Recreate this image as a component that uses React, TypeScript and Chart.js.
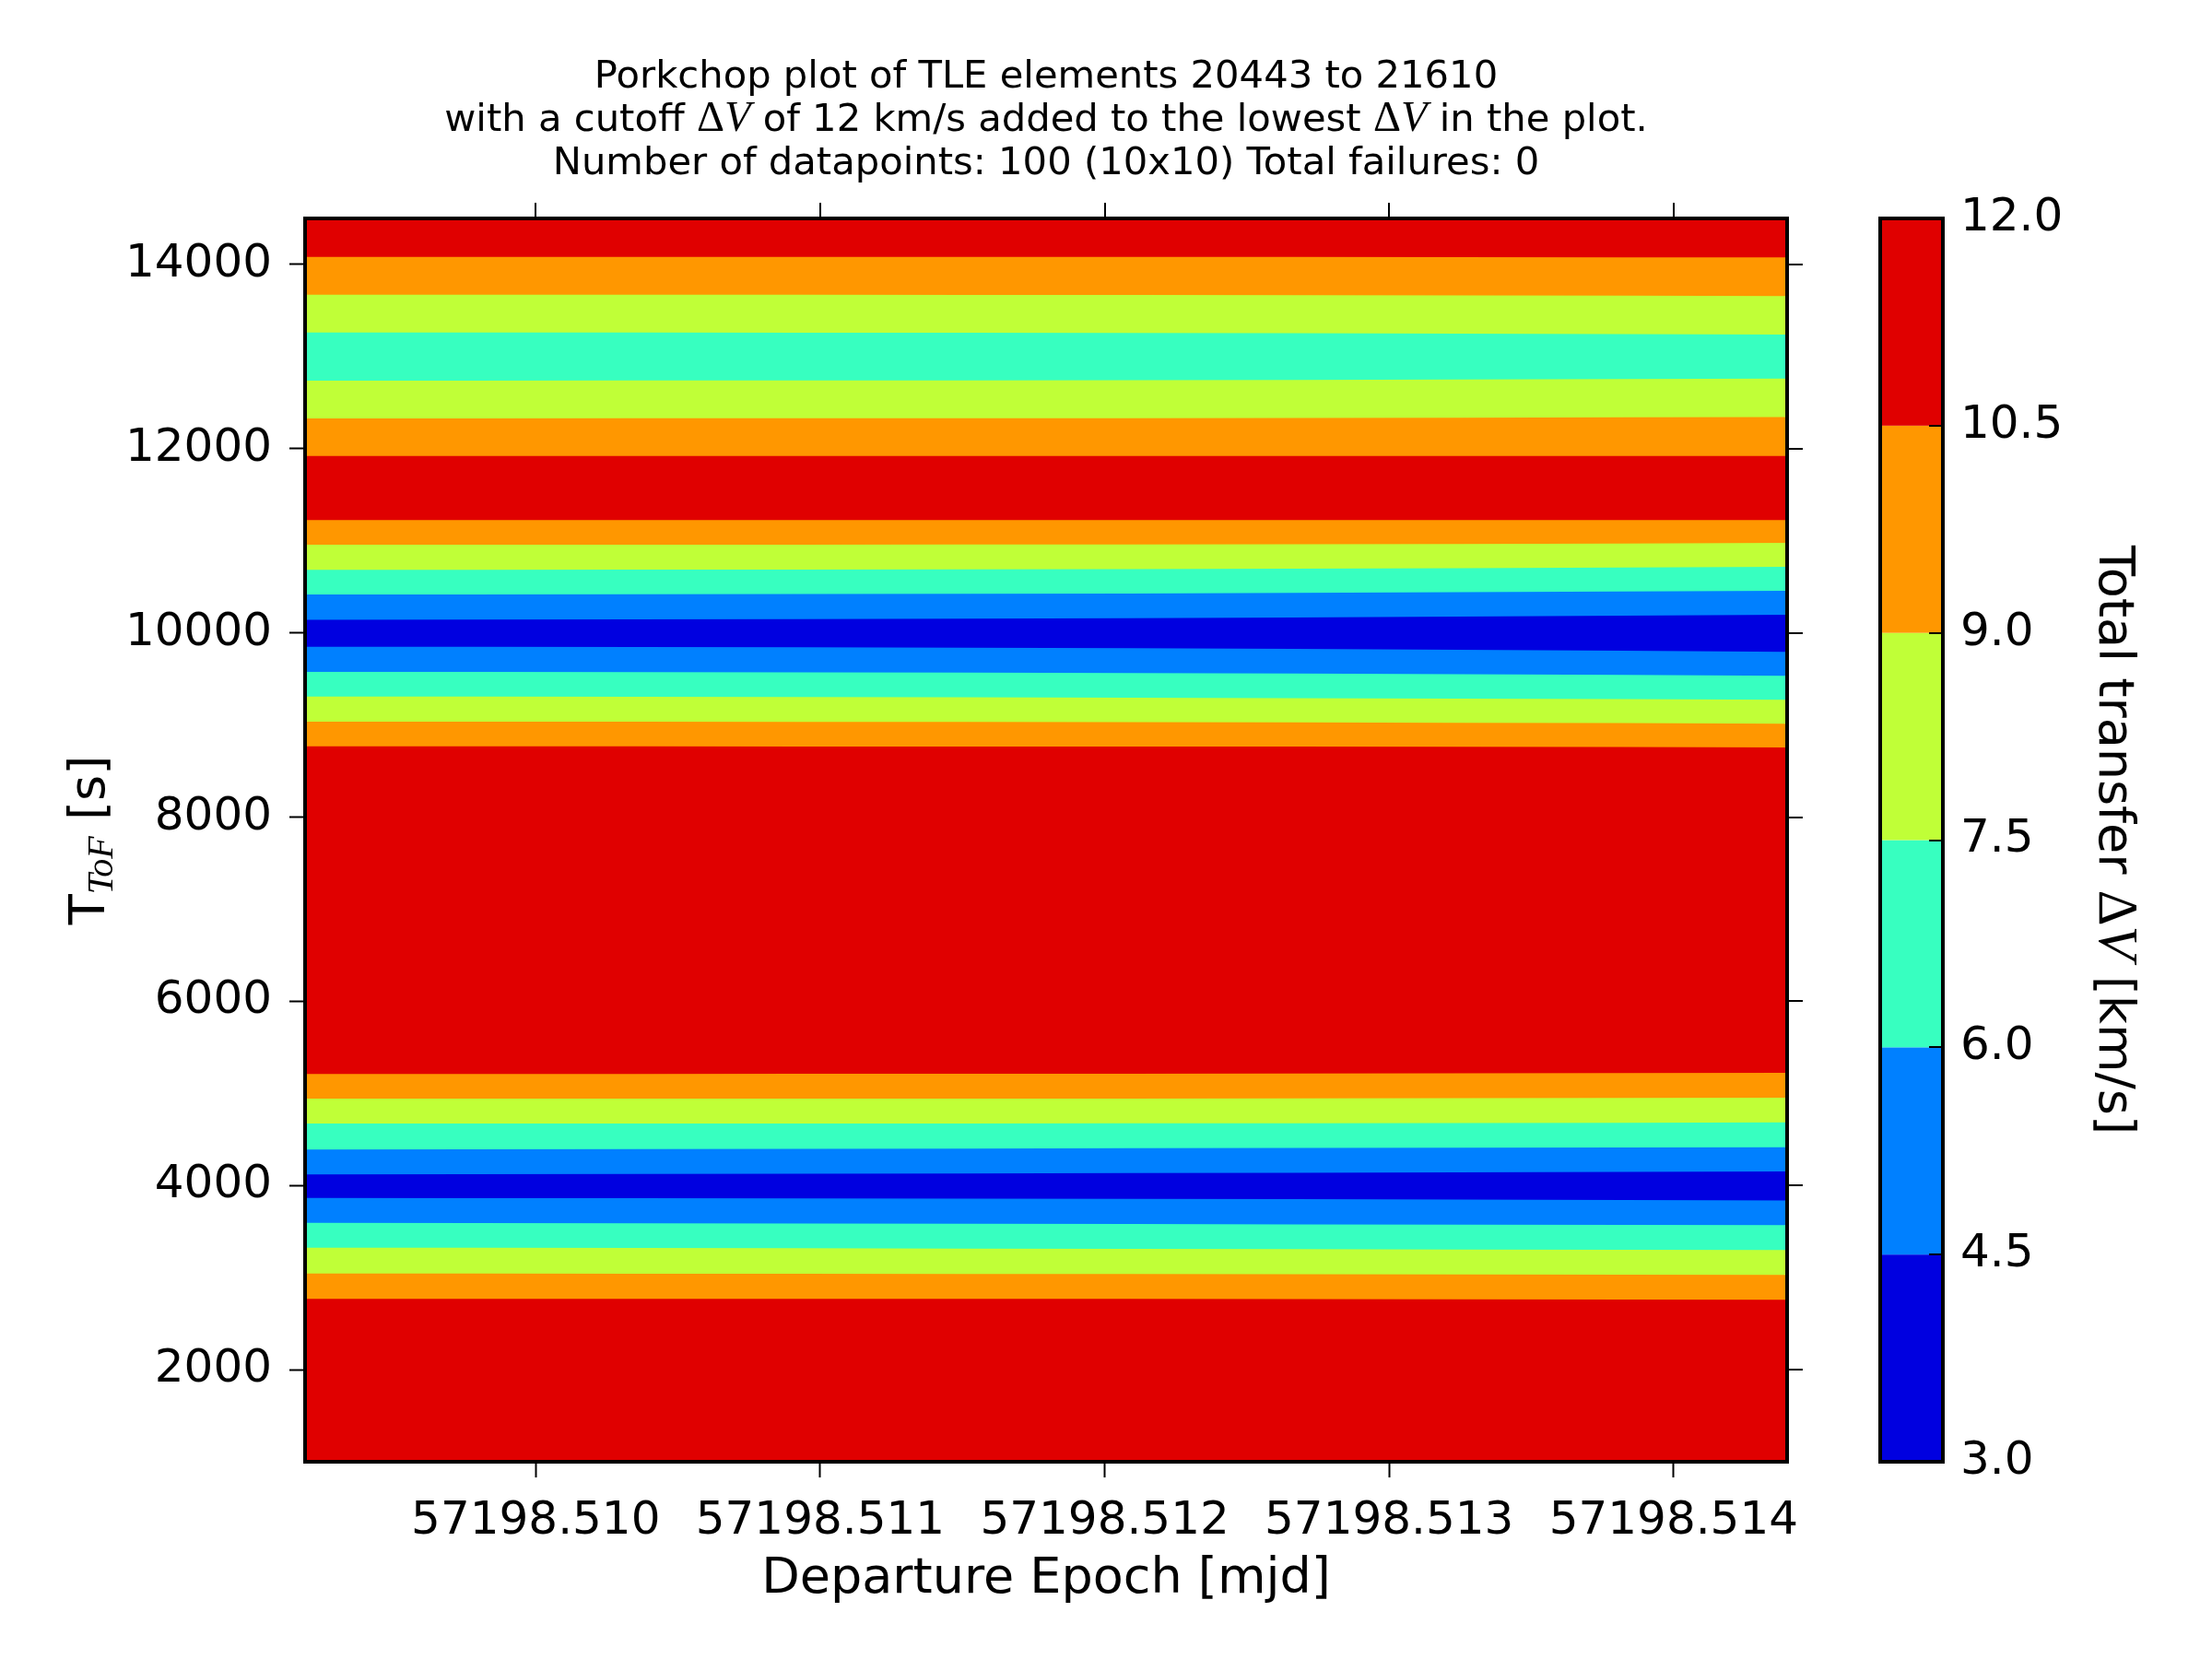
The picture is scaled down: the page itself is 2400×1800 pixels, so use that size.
import React, { useEffect, useRef } from 'react';
import { Chart, registerables } from 'chart.js';

Chart.register(...registerables);

// ---- data ----
const DEPARTURE_MJD = [
  57198.509189, 57198.509768, 57198.510347, 57198.510926, 57198.511505,
  57198.512083, 57198.512662, 57198.513241, 57198.51382, 57198.514399,
];
const TOF_MIN = 1000;
const TOF_MAX = 14500;
const X_TICKS = [57198.51, 57198.511, 57198.512, 57198.513, 57198.514];
const Y_TICKS = [2000, 4000, 6000, 8000, 10000, 12000, 14000];
const DV_LEVELS = [3.0, 4.5, 6.0, 7.5, 9.0, 10.5, 12.0];
const BAND_COLORS = ['#0000e0', '#0080ff', '#37ffc0', '#c0ff37', '#ff9700', '#e00000'];

// Contour boundaries (ToF in s) at each departure epoch, lower valley (around 4000 s)
const LOW_105_BOTTOM = [2770, 2770, 2770, 2769, 2769, 2768, 2767, 2765, 2762, 2758];
const LOW_90_BOTTOM = [3044, 3043, 3042, 3041, 3040, 3039, 3037, 3035, 3032, 3028];
const LOW_75_BOTTOM = [3325, 3323, 3321, 3318, 3314, 3311, 3308, 3305, 3302, 3299];
const LOW_60_BOTTOM = [3594, 3592, 3590, 3587, 3584, 3581, 3578, 3575, 3572, 3569];
const LOW_45_BOTTOM = [3864, 3863, 3861, 3859, 3857, 3854, 3851, 3847, 3843, 3838];
const LOW_45_TOP = [4120, 4122, 4124, 4127, 4130, 4134, 4138, 4142, 4147, 4152];
const LOW_60_TOP = [4390, 4392, 4395, 4398, 4401, 4404, 4407, 4410, 4413, 4416];
const LOW_75_TOP = [4672, 4672, 4672, 4672, 4673, 4674, 4676, 4678, 4681, 4684];
const LOW_90_TOP = [4942, 4942, 4942, 4942, 4943, 4944, 4946, 4948, 4951, 4954];
const LOW_105_TOP = [5211, 5211, 5211, 5212, 5213, 5214, 5216, 5218, 5220, 5223];
// upper valley (around 10000 s)
const UP_105_BOTTOM = [8768, 8768, 8768, 8767, 8767, 8766, 8765, 8763, 8760, 8755];
const UP_90_BOTTOM = [9036, 9036, 9035, 9034, 9033, 9031, 9028, 9024, 9020, 9014];
const UP_75_BOTTOM = [9309, 9308, 9306, 9304, 9301, 9297, 9292, 9286, 9280, 9274];
const UP_60_BOTTOM = [9577, 9576, 9574, 9572, 9569, 9565, 9559, 9551, 9543, 9535];
const UP_45_BOTTOM = [9849, 9848, 9846, 9843, 9839, 9834, 9827, 9817, 9806, 9795];
const UP_45_TOP = [10143, 10145, 10147, 10150, 10154, 10159, 10167, 10177, 10188, 10197];
const UP_60_TOP = [10416, 10417, 10419, 10421, 10424, 10428, 10434, 10442, 10450, 10458];
const UP_75_TOP = [10684, 10685, 10686, 10688, 10690, 10693, 10697, 10703, 10710, 10718];
const UP_90_TOP = [10957, 10957, 10958, 10958, 10959, 10960, 10962, 10965, 10970, 10978];
const UP_105_TOP = [11226, 11226, 11226, 11226, 11226, 11226, 11226, 11226, 11226, 11226];
// secondary dip (around 13000 s)
const HI_105_BOTTOM = [11920, 11920, 11920, 11920, 11920, 11920, 11920, 11920, 11920, 11920];
const HI_90_BOTTOM = [12329, 12329, 12330, 12330, 12331, 12332, 12334, 12337, 12340, 12344];
const HI_75_BOTTOM = [12739, 12739, 12740, 12741, 12742, 12744, 12747, 12751, 12756, 12761];
const HI_75_TOP = [13262, 13262, 13261, 13260, 13259, 13257, 13254, 13250, 13245, 13240];
const HI_90_TOP = [13672, 13672, 13671, 13671, 13670, 13669, 13667, 13664, 13661, 13658];
const HI_105_TOP = [14081, 14081, 14081, 14081, 14081, 14081, 14081, 14080, 14078, 14076];
const TOP_EDGE = DEPARTURE_MJD.map(() => TOF_MAX);

// each boundary, bottom to top, with the band index (into DV_LEVELS) lying just below it
const CONTOURS: { tof: number[]; below: number }[] = [
  { tof: LOW_105_BOTTOM, below: 5 },
  { tof: LOW_90_BOTTOM, below: 4 },
  { tof: LOW_75_BOTTOM, below: 3 },
  { tof: LOW_60_BOTTOM, below: 2 },
  { tof: LOW_45_BOTTOM, below: 1 },
  { tof: LOW_45_TOP, below: 0 },
  { tof: LOW_60_TOP, below: 1 },
  { tof: LOW_75_TOP, below: 2 },
  { tof: LOW_90_TOP, below: 3 },
  { tof: LOW_105_TOP, below: 4 },
  { tof: UP_105_BOTTOM, below: 5 },
  { tof: UP_90_BOTTOM, below: 4 },
  { tof: UP_75_BOTTOM, below: 3 },
  { tof: UP_60_BOTTOM, below: 2 },
  { tof: UP_45_BOTTOM, below: 1 },
  { tof: UP_45_TOP, below: 0 },
  { tof: UP_60_TOP, below: 1 },
  { tof: UP_75_TOP, below: 2 },
  { tof: UP_90_TOP, below: 3 },
  { tof: UP_105_TOP, below: 4 },
  { tof: HI_105_BOTTOM, below: 5 },
  { tof: HI_90_BOTTOM, below: 4 },
  { tof: HI_75_BOTTOM, below: 3 },
  { tof: HI_75_TOP, below: 2 },
  { tof: HI_90_TOP, below: 3 },
  { tof: HI_105_TOP, below: 4 },
  { tof: TOP_EDGE, below: 5 },
];

const TITLE_LINES = [
  'Porkchop plot of TLE elements 20443 to 21610',
  'with a cutoff |ΔV| of 12 km/s added to the lowest |ΔV| in the plot.',
  'Number of datapoints: 100 (10x10) Total failures: 0',
];
const X_LABEL = 'Departure Epoch [mjd]';
const CB_LABEL = 'Total transfer |ΔV| [km/s]';

// ---- layout constants (pixels) ----
const W = 2400;
const H = 1800;
const AREA_LEFT = 331;
const AREA_TOP = 237;
const AREA_RIGHT = 1939;
const AREA_BOTTOM = 1586;
const CB_LEFT = 2040;
const CB_RIGHT = 2108;
const CB_LABEL_X = 2127;
const TICK_LEN = 17;

const SANS = '"DejaVu Sans"';

type Part = { text: string; font: string; dy?: number };

function mathParts(str: string, size: number): Part[] {
  // segments between |...| are rendered as math (Δ upright, V italic serif)
  const parts: Part[] = [];
  str.split('|').forEach((seg, i) => {
    if (!seg) return;
    if (i % 2 === 1) {
      const ms = size * 1.12;
      parts.push({ text: 'Δ', font: `${ms}px "Liberation Serif"` });
      parts.push({ text: 'V', font: `italic ${ms}px "Liberation Serif"` });
    } else {
      parts.push({ text: seg, font: `${size}px ${SANS}` });
    }
  });
  return parts;
}

function drawRich(ctx: CanvasRenderingContext2D, parts: Part[], x: number, y: number, rot: number) {
  ctx.save();
  ctx.translate(x, y);
  ctx.rotate(rot);
  ctx.textAlign = 'left';
  ctx.textBaseline = 'alphabetic';
  ctx.fillStyle = '#000';
  const widths = parts.map((p) => {
    ctx.font = p.font;
    return ctx.measureText(p.text).width;
  });
  const total = widths.reduce((s, w) => s + w, 0);
  let cx = -total / 2;
  parts.forEach((p, i) => {
    ctx.font = p.font;
    ctx.fillText(p.text, cx, p.dy || 0);
    cx += widths[i];
  });
  ctx.restore();
}

const decorPlugin = {
  id: 'decor',
  afterDraw(chart: any) {
    const { ctx, chartArea: a, scales } = chart;
    ctx.save();
    // frame
    ctx.strokeStyle = '#000';
    ctx.lineWidth = 4;
    ctx.strokeRect(a.left, a.top, a.right - a.left, a.bottom - a.top);
    // top and right ticks
    ctx.lineWidth = 2;
    ctx.beginPath();
    X_TICKS.forEach((v) => {
      const x = Math.round(scales.x.getPixelForValue(v));
      ctx.moveTo(x, a.top);
      ctx.lineTo(x, a.top - TICK_LEN);
    });
    Y_TICKS.forEach((v) => {
      const y = Math.round(scales.y.getPixelForValue(v));
      ctx.moveTo(a.right, y);
      ctx.lineTo(a.right + TICK_LEN, y);
    });
    ctx.stroke();

    // colorbar
    const cb = scales.cb;
    for (let i = 0; i < BAND_COLORS.length; i++) {
      const y1 = cb.getPixelForValue(DV_LEVELS[i]);
      const y2 = cb.getPixelForValue(DV_LEVELS[i + 1]);
      ctx.fillStyle = BAND_COLORS[i];
      ctx.fillRect(CB_LEFT, y2, CB_RIGHT - CB_LEFT, y1 - y2);
    }
    ctx.lineWidth = 2;
    ctx.beginPath();
    DV_LEVELS.forEach((v) => {
      const y = Math.round(cb.getPixelForValue(v));
      ctx.moveTo(CB_RIGHT, y);
      ctx.lineTo(CB_RIGHT - 15, y);
    });
    ctx.stroke();
    ctx.lineWidth = 4;
    ctx.strokeRect(CB_LEFT, cb.top, CB_RIGHT - CB_LEFT, cb.bottom - cb.top);

    // titles and labels
    const cxPlot = (a.left + a.right) / 2;
    const cyPlot = (a.top + a.bottom) / 2;
    TITLE_LINES.forEach((line, i) => {
      drawRich(ctx, mathParts(line, 41.7), cxPlot, 95 + i * 47, 0);
    });
    drawRich(ctx, mathParts(X_LABEL, 54), cxPlot, 1728, 0);
    drawRich(
      ctx,
      [
        { text: 'T', font: `54px ${SANS}` },
        { text: 'ToF', font: `italic 40px "Liberation Serif"`, dy: 9 },
        { text: ' [s]', font: `54px ${SANS}` },
      ],
      113,
      cyPlot,
      -Math.PI / 2
    );
    drawRich(ctx, mathParts(CB_LABEL, 54), 2278, cyPlot, Math.PI / 2);
    ctx.restore();
  },
};

export default function App() {
  const ref = useRef<HTMLCanvasElement | null>(null);

  useEffect(() => {
    const canvas = ref.current;
    if (!canvas) return;
    const datasets = CONTOURS.map((c) => ({
      data: DEPARTURE_MJD.map((x, i) => ({ x, y: c.tof[i] })),
      backgroundColor: BAND_COLORS[c.below],
      borderWidth: 0,
      borderColor: 'rgba(0,0,0,0)',
      pointRadius: 0,
      fill: 'start',
      tension: 0,
      yAxisID: 'y',
      xAxisID: 'x',
    }));

    const tickFont = { family: 'DejaVu Sans', size: 50 };
    const CB_LABEL_PAD = 8;

    const chart = new Chart(canvas, {
      type: 'line',
      data: { datasets },
      options: {
        responsive: false,
        animation: false,
        devicePixelRatio: 1,
        layout: { padding: { left: 0, top: AREA_TOP, right: 0, bottom: 0 } },
        plugins: { legend: { display: false }, tooltip: { enabled: false }, title: { display: false } },
        scales: {
          x: {
            type: 'linear',
            position: 'bottom',
            min: DEPARTURE_MJD[0],
            max: DEPARTURE_MJD[DEPARTURE_MJD.length - 1],
            afterBuildTicks: (s: any) => {
              s.ticks = X_TICKS.map((v) => ({ value: v }));
            },
            afterFit: (s: any) => {
              s.height = H - AREA_BOTTOM;
            },
            grid: {
              display: true,
              drawOnChartArea: false,
              drawTicks: true,
              tickLength: TICK_LEN,
              tickWidth: 2,
              tickColor: '#000',
              color: '#000',
            },
            border: { display: false },
            ticks: {
              autoSkip: false,
              maxRotation: 0,
              minRotation: 0,
              padding: 18,
              color: '#000',
              font: tickFont,
              callback: (v: any) => Number(v).toFixed(3),
            },
          },
          y: {
            type: 'linear',
            position: 'left',
            min: TOF_MIN,
            max: TOF_MAX,
            afterBuildTicks: (s: any) => {
              s.ticks = Y_TICKS.map((v) => ({ value: v }));
            },
            afterFit: (s: any) => {
              s.width = AREA_LEFT;
            },
            grid: {
              display: true,
              drawOnChartArea: false,
              drawTicks: true,
              tickLength: TICK_LEN,
              tickWidth: 2,
              tickColor: '#000',
              color: '#000',
            },
            border: { display: false },
            ticks: {
              autoSkip: false,
              padding: 19,
              color: '#000',
              font: tickFont,
              callback: (v: any) => String(Math.round(Number(v))),
            },
          },
          cb: {
            type: 'linear',
            position: 'right',
            min: DV_LEVELS[0],
            max: DV_LEVELS[DV_LEVELS.length - 1],
            afterBuildTicks: (s: any) => {
              s.ticks = DV_LEVELS.map((v) => ({ value: v }));
            },
            afterFit: (s: any) => {
              s.width = W - AREA_RIGHT;
            },
            grid: {
              display: true,
              drawOnChartArea: false,
              drawTicks: true,
              tickLength: CB_LABEL_X - AREA_RIGHT - CB_LABEL_PAD,
              tickColor: 'rgba(0,0,0,0)',
              color: 'rgba(0,0,0,0)',
            },
            border: { display: false },
            ticks: {
              autoSkip: false,
              padding: CB_LABEL_PAD,
              color: '#000',
              font: tickFont,
              callback: (v: any) => Number(v).toFixed(1),
            },
          },
        },
      },
      plugins: [decorPlugin],
    } as any);

    return () => chart.destroy();
  }, []);

  return (
    <div style={{ position: 'fixed', left: 0, top: 0, width: W, height: H, background: '#fff' }}>
      <canvas ref={ref} width={W} height={H} style={{ display: 'block', width: W, height: H }} />
    </div>
  );
}
